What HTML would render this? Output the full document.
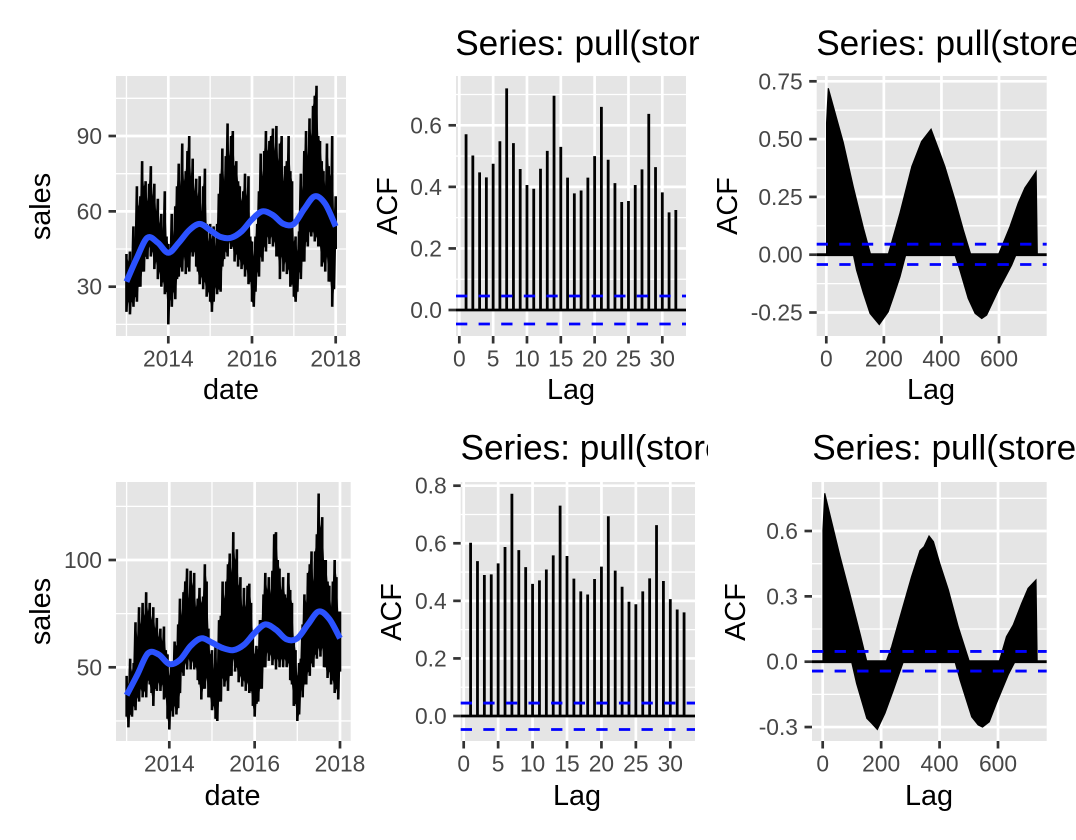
<!DOCTYPE html>
<html lang="en">
<head>
<meta charset="utf-8">
<title>Sales time series and ACF panels</title>
<style>
html,body{margin:0;padding:0;background:#fff;width:1076px;height:840px;overflow:hidden}
svg{display:block;font-family:"Liberation Sans",Arial,sans-serif}
</style>
</head>
<body>
<svg id="figure" xmlns="http://www.w3.org/2000/svg" width="1076" height="840" viewBox="0 0 1076 840"></svg>
<script>
// ---------- Data ----------
// Sales: half-monthly high/low envelope of the daily series, 2013..2018
const salesHighA = [
43,40,44,38,54,48,70,62,66,80,
70,72,64,71,78,66,71,60,65,55,
59,52,68,50,47,42,59,50,62,70,
79,70,87,72,76,84,90,74,81,68,
73,66,74,60,70,77,55,48,55,49,
54,46,55,67,75,85,72,82,95,82,
90,92,78,80,72,70,64,68,75,66,
74,50,48,42,50,55,68,83,74,84,
92,84,88,90,93,84,94,80,87,90,
72,78,80,90,76,72,48,50,44,52,
75,68,84,92,82,97,90,102,106,110,
90,88,80,76,70,87,78,74,90,60,
66];
const salesLowA = [
20,24,19,24,22,26,24,30,30,36,
36,42,41,46,42,44,37,40,33,36,
30,32,27,28,15,25,22,28,25,33,
34,38,36,42,35,38,36,44,42,44,
38,36,31,34,29,32,26,28,24,20,
24,30,27,29,28,38,41,44,42,48,
45,46,40,43,38,41,37,39,34,37,
31,32,24,22,28,36,34,42,40,46,
44,50,47,50,46,48,42,42,33,42,
36,40,35,37,30,31,26,24,28,36,
33,40,40,48,46,52,50,52,48,50,
46,46,38,40,36,42,32,32,22,29,
45];
const salesSmoothA = [32,41.5,49.5,47.5,43.5,47.5,52.5,55,52.5,49.8,49.5,52,56.8,60,58.5,55,55,61,66,63,54];

const salesHighB = [
46,42,54,48,52,71,64,78,70,80,
74,85,76,80,72,78,68,73,64,68,
62,69,58,56,46,52,50,62,60,70,
82,74,85,90,96,82,95,88,94,78,
82,87,80,83,98,90,68,56,58,48,
60,50,72,74,90,82,90,98,103,94,
113,100,105,88,92,78,87,78,88,89,
80,66,56,60,58,72,72,84,94,86,
92,84,95,112,113,100,96,86,92,84,
82,94,86,80,64,58,46,52,54,70,
84,80,94,98,104,90,104,112,131,115,
120,100,100,90,88,78,90,100,92,76,
76];
const salesLowB = [
27,22,28,27,32,30,36,34,40,36,
39,36,44,42,38,32,40,39,43,39,
42,35,36,26,21,30,27,32,28,31,
38,48,46,52,49,54,49,53,49,50,
44,42,35,40,40,45,36,36,30,32,
26,25,34,34,45,41,44,39,46,46,
54,48,50,43,46,41,44,39,43,38,
39,32,27,33,34,40,40,50,50,57,
53,56,51,54,49,54,50,54,50,54,
50,52,44,42,32,33,25,28,40,36,
42,42,48,46,52,50,56,54,59,55,
59,50,50,45,48,42,44,38,40,35,
48];
const salesSmoothB = [37,46.5,56.5,56,51.5,53.5,60,63.5,61.5,59,58,60.5,66,70,67.5,63,63.5,70,76,72.5,63.5];

// Short-lag ACF values, lags 1..32
const acfShortA = [.571,.502,.447,.431,.475,.548,.72,.542,.458,.406,.394,.459,.517,.696,.53,.43,.379,.388,.43,.50,.66,.488,.412,.351,.354,.406,.457,.637,.464,.382,.317,.325];
const acfShortB = [.602,.538,.49,.492,.53,.587,.772,.576,.517,.459,.471,.509,.558,.731,.556,.477,.433,.422,.476,.519,.694,.505,.449,.397,.388,.433,.478,.663,.469,.406,.37,.36];

// Long-lag ACF: envelope of the dense bars
const acfLongUpperLagsA = [1,1,7,59,94,129,154,215,256,297,331,349,364,393,412,447,476,502,598,638,667,690,729,733];
const acfLongUpperA = [0,.57,.72,.485,.292,.115,0,0,.18,.381,.49,.519,.543,.446,.381,.237,.107,0,0,.121,.224,.289,.36,0];
const acfLongLowerLagsA = [94,105,129,152,184,215,233,256,276,447,464,493,517,540,557,598,644,659];
const acfLongLowerA = [0,-.066,-.167,-.254,-.302,-.247,-.182,-.095,0,0,-.066,-.189,-.254,-.276,-.261,-.153,-.045,0];

const acfLongUpperLagsB = [1,1,7,59,94,129,151,217,236,270,304,333,347,364,379,401,430,464,502,604,629,652,681,703,730,734];
const acfLongUpperB = [0,.605,.773,.485,.306,.122,0,0,.069,.23,.39,.51,.528,.577,.551,.45,.33,.16,0,0,.115,.168,.268,.337,.375,0];
const acfLongLowerLagsB = [99,116,151,168,187,213,242,276,453,470,510,532,547,570,595,635,658];
const acfLongLowerB = [0,-.1,-.26,-.283,-.311,-.237,-.13,0,0,-.084,-.253,-.29,-.30,-.276,-.19,-.06,0];

// Confidence limits
const ciLimitsA = [0.0455,-0.0455];
const ciLimitsB = [0.045,-0.047];
const ciLimitsC = [0.0455,-0.0425];
const ciLimitsD = [0.047,-0.043];

// Tick labels
const yearTicks = [2014,2016,2018];
const yearMinor = [2013,2015,2017];
const salesTicksA = [30,60,90];
const salesMinorA = [15,45,75,105];
const salesTicksB = [50,100];
const salesMinorB = [25,75,125];
const lagTicksShort = [0,5,10,15,20,25,30];
const lagTicksLong = [0,200,400,600];
const acfTicksA = [0,.2,.4,.6];
const acfMinorA = [.1,.3,.5,.7];
const acfTicksB = [0,.2,.4,.6,.8];
const acfMinorB = [.1,.3,.5,.7];
const acfTicksC = [-.25,0,.25,.5,.75];
const acfMinorC = [-.125,.125,.375,.625];
const acfTicksD = [-.3,0,.3,.6];
const acfMinorD = [-.15,.15,.45,.75];

// ---------- Helpers ----------
const NS = 'http://www.w3.org/2000/svg';
const root = document.getElementById('figure');
function mk(tag, attrs, parent) {
  const el = document.createElementNS(NS, tag);
  for (const k in attrs) el.setAttribute(k, attrs[k]);
  (parent || root).appendChild(el);
  return el;
}
function linear(d0, d1, r0, r1) {
  return v => r0 + (v - d0) * (r1 - r0) / (d1 - d0);
}
function label(group, txt, x, y, size, fill, anchor, name, rotate) {
  const attrs = {x: x, y: y, 'font-size': size, fill: fill, 'text-anchor': anchor};
  if (rotate) attrs.transform = 'rotate(-90 ' + x + ' ' + y + ')';
  const t = mk('text', attrs, group);
  t.textContent = txt;
  
  
  return t;
}
function smoothPath(pts) {
  // Catmull-Rom through the given points
  let d = 'M' + pts[0][0].toFixed(2) + ' ' + pts[0][1].toFixed(2);
  for (let i = 0; i < pts.length - 1; i++) {
    const p0 = pts[Math.max(i - 1, 0)], p1 = pts[i], p2 = pts[i + 1], p3 = pts[Math.min(i + 2, pts.length - 1)];
    const c1x = p1[0] + (p2[0] - p0[0]) / 6, c1y = p1[1] + (p2[1] - p0[1]) / 6;
    const c2x = p2[0] - (p3[0] - p1[0]) / 6, c2y = p2[1] - (p3[1] - p1[1]) / 6;
    d += 'C' + c1x.toFixed(2) + ' ' + c1y.toFixed(2) + ' ' + c2x.toFixed(2) + ' ' + c2y.toFixed(2) + ' ' + p2[0].toFixed(2) + ' ' + p2[1].toFixed(2);
  }
  return d;
}

// Panel frame: background, grid, ticks, axis text
function frame(c) {
  const g = mk('g', {});
  
  
  const bg = mk('rect', {x: c.left, y: c.top, width: c.right - c.left, height: c.bottom - c.top, fill: '#e5e5e5'}, g);
  
  
  const grid = mk('g', {stroke: '#fff', fill: 'none'}, g);
  
  
  c.yMinor.forEach(v => {
    const l = mk('line', {x1: c.left, x2: c.right, y1: c.y(v), y2: c.y(v), 'stroke-width': 1.3}, grid);
    
    
  });
  (c.xMinor || []).forEach(v => {
    const l = mk('line', {y1: c.top, y2: c.bottom, x1: c.x(v), x2: c.x(v), 'stroke-width': 1.3}, grid);
    
    
  });
  c.yTicks.forEach(v => {
    const l = mk('line', {x1: c.left, x2: c.right, y1: c.y(v), y2: c.y(v), 'stroke-width': 2.7}, grid);
    
    
  });
  c.xTicks.forEach(v => {
    const l = mk('line', {y1: c.top, y2: c.bottom, x1: c.x(v), x2: c.x(v), 'stroke-width': 2.7}, grid);
    
    
  });
  c.yTicks.forEach((v, i) => {
    const t = mk('line', {x1: c.left - 7.5, x2: c.left, y1: c.y(v), y2: c.y(v), stroke: '#333', 'stroke-width': 2.7}, g);
    
    
    label(g, c.yFormat(v), c.left - 14, c.y(v) + 8, 22.8, '#474747', 'end', 'y-tick-label');
  });
  c.xTicks.forEach(v => {
    const t = mk('line', {y1: c.bottom, y2: c.bottom + 7.5, x1: c.x(v), x2: c.x(v), stroke: '#333', 'stroke-width': 2.7}, g);
    
    
    label(g, String(v), c.x(v), c.bottom + 30.5, 22.8, '#474747', 'middle', 'x-tick-label');
  });
  label(g, c.xTitle, c.xTitleX, c.xTitleY, 28.8, '#000', 'middle', 'x-axis-title');
  label(g, c.yTitle, c.yTitleX, c.yTitleY, 28.8, '#000', 'middle', 'y-axis-title', true);
  if (c.title) {
    const cid = c.name + '-clip';
    const cp = mk('clipPath', {id: cid}, g);
    mk('rect', {x: c.titleX - 5, y: c.titleY - 40, width: c.titleClip - c.titleX + 5, height: 60}, cp);
    const tg = mk('g', {'clip-path': 'url(#' + cid + ')'}, g);
    label(tg, c.title, c.titleX, c.titleY, c.titleSize, '#000', 'start', 'panel-title');
  }
  return g;
}

function drawSales(c, high, low, smooth) {
  const g = frame(c);
  // Solid body between the highs and lows
  let body = '';
  for (let i = 0; i < high.length; i++) {
    body += (i ? 'L' : 'M') + c.x(2013 + i / 24).toFixed(2) + ' ' + c.y(high[i]).toFixed(2);
  }
  for (let i = low.length - 1; i >= 0; i--) {
    body += 'L' + c.x(2013 + i / 24).toFixed(2) + ' ' + c.y(low[i]).toFixed(2);
  }
  const area = mk('path', {d: body + 'Z', fill: '#000', stroke: 'none'}, g);
  
  
  let d = '';
  for (let i = 0; i < high.length; i++) {
    const px = c.x(2013 + i / 24);
    d += (i ? 'L' : 'M') + px.toFixed(2) + ' ' + c.y(high[i]).toFixed(2) + 'L' + px.toFixed(2) + ' ' + c.y(low[i]).toFixed(2);
  }
  const line = mk('path', {d: d, fill: 'none', stroke: '#000', 'stroke-width': 2.6, 'stroke-linejoin': 'miter', 'stroke-miterlimit': 3}, g);
  
  
  const pts = smooth.map((v, i) => [c.x(2013 + i / 4), c.y(v)]);
  const sm = mk('path', {d: smoothPath(pts), fill: 'none', stroke: '#2b52ff', 'stroke-width': 6}, g);
  
  
}

function drawLimits(c, g, limits) {
  const z = mk('line', {x1: c.zeroFrom || c.left, x2: c.right, y1: c.y(0), y2: c.y(0), stroke: '#000', 'stroke-width': 2.8}, g);
  
  
  limits.forEach(v => {
    const l = mk('line', {x1: c.left, x2: c.right, y1: c.y(v), y2: c.y(v), stroke: '#0000ff', 'stroke-width': 2.8, 'stroke-dasharray': '11.3 11.3'}, g);
    
    
  });
}

function drawAcfShort(c, values, limits) {
  const g = frame(c);
  values.forEach((v, i) => {
    const b = mk('line', {x1: c.x(i + 1), x2: c.x(i + 1), y1: c.y(0), y2: c.y(v), stroke: '#000', 'stroke-width': 2.8}, g);
    
    
  });
  drawLimits(c, g, limits);
}

function drawAcfLong(c, upLags, up, lowLags, low, limits) {
  const g = frame(c);
  const dUp = up.map((v, i) => (i ? 'L' : 'M') + c.x(upLags[i]).toFixed(2) + ' ' + c.y(v).toFixed(2)).join('') + 'Z';
  const a = mk('path', {d: dUp, fill: '#000', stroke: '#000', 'stroke-width': 1.2}, g);
  
  
  const dLow = low.map((v, i) => (i ? 'L' : 'M') + c.x(lowLags[i]).toFixed(2) + ' ' + c.y(v).toFixed(2)).join('') + 'Z';
  const b = mk('path', {d: dLow, fill: '#000', stroke: '#000', 'stroke-width': 1.2}, g);
  
  
  drawLimits(c, g, limits);
}

const f0 = v => String(v);
const f1 = v => v.toFixed(1);
const f2 = v => v.toFixed(2);
const TITLE = 'Series: pull(store';

// ---------- Panels ----------
drawSales({
  name: 'sales-panel-top', left: 116, right: 346, top: 76, bottom: 336,
  x: linear(2014, 2018, 168.3, 335.7), y: linear(30, 90, 286.7, 136),
  xTicks: yearTicks, xMinor: yearMinor, yTicks: salesTicksA, yMinor: salesMinorA, yFormat: f0,
  xTitle: 'date', yTitle: 'sales', xTitleX: 231, xTitleY: 399, yTitleX: 50, yTitleY: 206.5
}, salesHighA, salesLowA, salesSmoothA);

drawSales({
  name: 'sales-panel-bottom', left: 116, right: 350.7, top: 482, bottom: 741,
  x: linear(2014, 2018, 169.3, 340), y: linear(50, 100, 667.3, 560),
  xTicks: yearTicks, xMinor: yearMinor, yTicks: salesTicksB, yMinor: salesMinorB, yFormat: f0,
  xTitle: 'date', yTitle: 'sales', xTitleX: 232.5, xTitleY: 805, yTitleX: 50, yTitleY: 611.5
}, salesHighB, salesLowB, salesSmoothB);

drawAcfShort({
  name: 'acf-short-panel-top', left: 456, right: 686, top: 76, bottom: 336,
  x: linear(0, 30, 459.3, 662.3), y: linear(0, .6, 310, 125.3),
  xTicks: lagTicksShort, yTicks: acfTicksA, yMinor: acfMinorA, yFormat: f1,
  xTitle: 'Lag', yTitle: 'ACF', xTitleX: 571, xTitleY: 399, yTitleX: 397, yTitleY: 206,
  title: TITLE, titleX: 455.2, titleY: 55, titleClip: 700, titleSize: 35.2
}, acfShortA, ciLimitsA);

drawAcfShort({
  name: 'acf-short-panel-bottom', left: 460.7, right: 695, top: 482, bottom: 741,
  x: linear(0, 30, 463.7, 670.3), y: linear(0, .8, 716, 485.7),
  xTicks: lagTicksShort, yTicks: acfTicksB, yMinor: acfMinorB, yFormat: f1,
  xTitle: 'Lag', yTitle: 'ACF', xTitleX: 577, xTitleY: 805, yTitleX: 401, yTitleY: 612,
  title: TITLE, titleX: 460.5, titleY: 459.5, titleClip: 708, titleSize: 35.2
}, acfShortB, ciLimitsB);

drawAcfLong({
  name: 'acf-long-panel-top', left: 816.7, right: 1046.7, top: 76, bottom: 336,
  x: linear(0, 600, 826.3, 999), y: linear(0, .75, 254.7, 81.3),
  xTicks: lagTicksLong, yTicks: acfTicksC, yMinor: acfMinorC, yFormat: f2,
  xTitle: 'Lag', yTitle: 'ACF', xTitleX: 931, xTitleY: 399, yTitleX: 737, yTitleY: 206,
  title: TITLE, titleX: 816.2, titleY: 55, titleClip: 1076, titleSize: 35.2
}, acfLongUpperLagsA, acfLongUpperA, acfLongLowerLagsA, acfLongLowerA, ciLimitsC);

drawAcfLong({
  name: 'acf-long-panel-bottom', left: 812, right: 1046.7, top: 482, bottom: 741,
  x: linear(0, 600, 822.7, 998), y: linear(0, .6, 661.7, 531),
  xTicks: lagTicksLong, yTicks: acfTicksD, yMinor: acfMinorD, yFormat: f1,
  xTitle: 'Lag', yTitle: 'ACF', xTitleX: 929, xTitleY: 805, yTitleX: 745, yTitleY: 612,
  title: TITLE, titleX: 812.2, titleY: 459.5, titleClip: 1075, titleSize: 35.2
}, acfLongUpperLagsB, acfLongUpperB, acfLongLowerLagsB, acfLongLowerB, ciLimitsD);
</script>
</body>
</html>
